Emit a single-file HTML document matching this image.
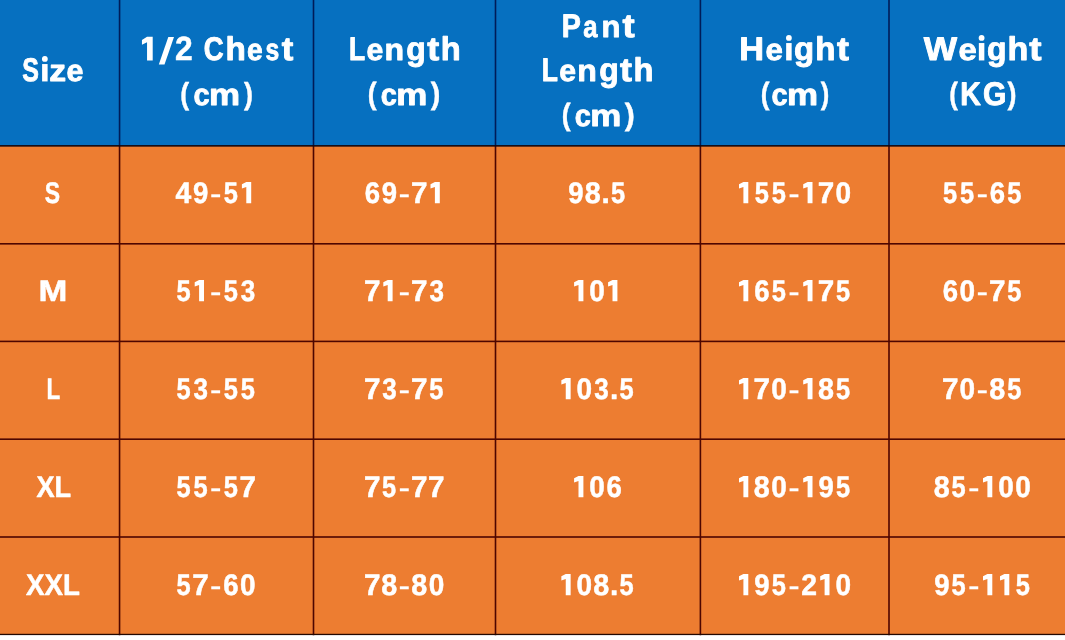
<!DOCTYPE html>
<html><head><meta charset="utf-8"><style>
html,body{margin:0;padding:0;background:#fff;}
body{width:1065px;height:640px;overflow:hidden;}
svg{display:block;filter:blur(0.45px);}
text{font-family:"Liberation Sans",sans-serif;font-weight:bold;fill:#ffffff;stroke:#ffffff;stroke-width:0.5px;stroke-linejoin:round;text-rendering:geometricPrecision;}
</style></head><body>
<svg width="1065" height="640" viewBox="0 0 1065 640">
<rect x="0" y="0" width="1065" height="145.85" fill="#0670c0"/><rect x="0" y="145.85" width="1065" height="488.6" fill="#ed7d31"/>
<g fill="#000"><rect x="118.75" y="0" width="1.6" height="145.85" fill="#001c58"/><rect x="118.75" y="145.85" width="1.6" height="489.40" fill="#4e0600"/><rect x="312.70" y="0" width="1.6" height="145.85" fill="#001c58"/><rect x="312.70" y="145.85" width="1.6" height="489.40" fill="#4e0600"/><rect x="494.70" y="0" width="1.6" height="145.85" fill="#001c58"/><rect x="494.70" y="145.85" width="1.6" height="489.40" fill="#4e0600"/><rect x="699.60" y="0" width="1.6" height="145.85" fill="#001c58"/><rect x="699.60" y="145.85" width="1.6" height="489.40" fill="#4e0600"/><rect x="888.20" y="0" width="1.6" height="145.85" fill="#001c58"/><rect x="888.20" y="145.85" width="1.6" height="489.40" fill="#4e0600"/><rect x="0" y="145.05" width="1065" height="1.6" fill="#140a12"/><rect x="0" y="243.00" width="1065" height="1.6" fill="#4e0600"/><rect x="0" y="340.60" width="1065" height="1.6" fill="#4e0600"/><rect x="0" y="438.40" width="1065" height="1.6" fill="#4e0600"/><rect x="0" y="536.20" width="1065" height="1.6" fill="#4e0600"/><rect x="0" y="633.80" width="1065" height="1.3" fill="#240800"/></g>
<g><text transform="translate(22.35 81.10) scale(0.7597 1.0000)" font-size="32.8" style="stroke-width:0.9px">S</text><text transform="translate(49.20 81.10) scale(1.0281 0.9300)" font-size="32.8" style="stroke-width:0.9px">z</text><text transform="translate(66.44 81.10) scale(0.9268 0.9300)" font-size="32.8" style="stroke-width:0.9px">e</text><text transform="translate(203.75 60.10) scale(0.8407 1.0000)" font-size="32.8" style="stroke-width:0.9px">C</text><text transform="translate(225.45 60.10) scale(1.0142 1.0000)" font-size="32.8" style="stroke-width:0.9px">h</text><text transform="translate(247.00 60.10) scale(0.8598 0.9300)" font-size="32.8" style="stroke-width:0.9px">e</text><text transform="translate(265.41 60.10) scale(0.7529 0.9300)" font-size="32.8" style="stroke-width:0.9px">s</text><text transform="translate(281.70 60.10) scale(1.0575 1.0000)" font-size="32.8" style="stroke-width:0.9px">t</text><text transform="translate(193.38 105.10) scale(0.8841 0.9300)" font-size="32.8" style="stroke-width:0.9px">c</text><text transform="translate(208.95 105.10) scale(1.0651 0.9300)" font-size="32.8" style="stroke-width:0.9px">m</text><text transform="translate(349.07 60.10) scale(0.8053 1.0000)" font-size="32.8" style="stroke-width:0.9px">L</text><text transform="translate(366.44 60.10) scale(0.9207 0.9300)" font-size="32.8" style="stroke-width:0.9px">e</text><text transform="translate(384.43 60.10) scale(0.9769 0.9300)" font-size="32.8" style="stroke-width:0.9px">n</text><text transform="translate(406.37 60.10) scale(0.9744 1.0000)" font-size="32.8" style="stroke-width:0.9px">g</text><text transform="translate(427.19 60.10) scale(1.0957 1.0000)" font-size="32.8" style="stroke-width:0.9px">t</text><text transform="translate(440.79 60.10) scale(0.9955 1.0000)" font-size="32.8" style="stroke-width:0.9px">h</text><text transform="translate(380.78 105.10) scale(0.8841 0.9300)" font-size="32.8" style="stroke-width:0.9px">c</text><text transform="translate(396.35 105.10) scale(1.0651 0.9300)" font-size="32.8" style="stroke-width:0.9px">m</text><text transform="translate(561.63 37.10) scale(0.8726 1.0000)" font-size="32.8" style="stroke-width:0.9px">P</text><text transform="translate(583.34 37.10) scale(0.7816 0.9300)" font-size="32.8" style="stroke-width:0.9px">a</text><text transform="translate(601.39 37.10) scale(0.9457 0.9300)" font-size="32.8" style="stroke-width:0.9px">n</text><text transform="translate(622.58 37.10) scale(1.1147 1.0000)" font-size="32.8" style="stroke-width:0.9px">t</text><text transform="translate(541.87 81.10) scale(0.8053 1.0000)" font-size="32.8" style="stroke-width:0.9px">L</text><text transform="translate(559.24 81.10) scale(0.9207 0.9300)" font-size="32.8" style="stroke-width:0.9px">e</text><text transform="translate(577.23 81.10) scale(0.9769 0.9300)" font-size="32.8" style="stroke-width:0.9px">n</text><text transform="translate(599.17 81.10) scale(0.9744 1.0000)" font-size="32.8" style="stroke-width:0.9px">g</text><text transform="translate(619.99 81.10) scale(1.0957 1.0000)" font-size="32.8" style="stroke-width:0.9px">t</text><text transform="translate(633.59 81.10) scale(0.9955 1.0000)" font-size="32.8" style="stroke-width:0.9px">h</text><text transform="translate(574.78 126.10) scale(0.8841 0.9300)" font-size="32.8" style="stroke-width:0.9px">c</text><text transform="translate(590.35 126.10) scale(1.0651 0.9300)" font-size="32.8" style="stroke-width:0.9px">m</text><text transform="translate(739.29 60.10) scale(1.0467 1.0000)" font-size="32.8" style="stroke-width:0.9px">H</text><text transform="translate(765.41 60.10) scale(0.9512 0.9300)" font-size="32.8" style="stroke-width:0.9px">e</text><text transform="translate(794.03 60.10) scale(1.0043 1.0000)" font-size="32.8" style="stroke-width:0.9px">g</text><text transform="translate(815.27 60.10) scale(1.0080 1.0000)" font-size="32.8" style="stroke-width:0.9px">h</text><text transform="translate(836.89 60.10) scale(1.0957 1.0000)" font-size="32.8" style="stroke-width:0.9px">t</text><text transform="translate(771.48 105.10) scale(0.8841 0.9300)" font-size="32.8" style="stroke-width:0.9px">c</text><text transform="translate(787.05 105.10) scale(1.0651 0.9300)" font-size="32.8" style="stroke-width:0.9px">m</text><text transform="translate(923.65 60.10) scale(1.0783 1.0000)" font-size="32.8" style="stroke-width:0.9px">W</text><text transform="translate(958.47 60.10) scale(1.0000 0.9300)" font-size="32.8" style="stroke-width:0.9px">e</text><text transform="translate(986.97 60.10) scale(0.9744 1.0000)" font-size="32.8" style="stroke-width:0.9px">g</text><text transform="translate(1007.51 60.10) scale(1.0391 1.0000)" font-size="32.8" style="stroke-width:0.9px">h</text><text transform="translate(1029.18 60.10) scale(1.1242 1.0000)" font-size="32.8" style="stroke-width:0.9px">t</text><text transform="translate(960.24 105.10) scale(0.8684 1.0000)" font-size="32.8" style="stroke-width:0.9px">K</text><text transform="translate(983.04 105.10) scale(0.9191 1.0000)" font-size="32.8" style="stroke-width:0.9px">G</text><text transform="translate(180.13 103.61) scale(0.8130 0.9276)" font-size="32.8">(</text><text transform="translate(244.10 103.61) scale(0.8200 0.9276)" font-size="32.8">)</text><text transform="translate(367.73 103.67) scale(0.8130 0.9341)" font-size="32.8">(</text><text transform="translate(430.80 103.67) scale(0.8726 0.9341)" font-size="32.8">)</text><text transform="translate(561.73 125.27) scale(0.8130 0.9341)" font-size="32.8">(</text><text transform="translate(624.80 125.27) scale(0.9146 0.9341)" font-size="32.8">)</text><text transform="translate(760.85 103.57) scale(0.8028 0.9341)" font-size="32.8">(</text><text transform="translate(820.70 103.57) scale(0.7780 0.9341)" font-size="32.8">)</text><text transform="translate(949.26 103.67) scale(0.7927 0.9341)" font-size="32.8">(</text><text transform="translate(1007.50 103.67) scale(0.8200 0.9341)" font-size="32.8">)</text><text transform="translate(175.04 60.30) scale(0.9475 1.0000)" font-size="33.6">2</text><text transform="translate(44.64 203.00) scale(0.7676 1.0000)" font-size="29.9">S</text><text transform="translate(175.53 203.00) scale(0.947 1)" font-size="29.9">4</text><text transform="translate(193.03 203.00) scale(0.921 1)" font-size="29.9">9</text><text transform="translate(223.67 203.00) scale(0.851 1)" font-size="29.9">5</text><text transform="translate(364.63 203.00) scale(0.921 1)" font-size="29.9">6</text><text transform="translate(381.63 203.00) scale(0.921 1)" font-size="29.9">9</text><text transform="translate(411.10 203.00) scale(0.992 1)" font-size="29.9">7</text><text transform="translate(568.18 203.00) scale(0.921 1)" font-size="29.9">9</text><text transform="translate(584.71 203.00) scale(0.961 1)" font-size="29.9">8</text><text transform="translate(601.48 203.00) scale(0.997 1)" font-size="29.9">.</text><text transform="translate(611.12 203.00) scale(0.851 1)" font-size="29.9">5</text><text transform="translate(754.77 203.00) scale(0.851 1)" font-size="29.9">5</text><text transform="translate(771.77 203.00) scale(0.851 1)" font-size="29.9">5</text><text transform="translate(817.80 203.00) scale(0.992 1)" font-size="29.9">7</text><text transform="translate(835.40 203.00) scale(0.937 1)" font-size="29.9">0</text><text transform="translate(943.07 203.00) scale(0.851 1)" font-size="29.9">5</text><text transform="translate(960.07 203.00) scale(0.851 1)" font-size="29.9">5</text><text transform="translate(989.83 203.00) scale(0.921 1)" font-size="29.9">6</text><text transform="translate(1007.27 203.00) scale(0.851 1)" font-size="29.9">5</text><text transform="translate(38.62 301.00) scale(1.1588 1.0000)" font-size="29.9">M</text><text transform="translate(176.47 301.00) scale(0.851 1)" font-size="29.9">5</text><text transform="translate(223.67 301.00) scale(0.851 1)" font-size="29.9">5</text><text transform="translate(240.78 301.00) scale(0.870 1)" font-size="29.9">3</text><text transform="translate(363.90 301.00) scale(0.992 1)" font-size="29.9">7</text><text transform="translate(411.10 301.00) scale(0.992 1)" font-size="29.9">7</text><text transform="translate(429.38 301.00) scale(0.870 1)" font-size="29.9">3</text><text transform="translate(589.30 301.00) scale(0.937 1)" font-size="29.9">0</text><text transform="translate(754.33 301.00) scale(0.921 1)" font-size="29.9">6</text><text transform="translate(771.77 301.00) scale(0.851 1)" font-size="29.9">5</text><text transform="translate(817.80 301.00) scale(0.992 1)" font-size="29.9">7</text><text transform="translate(835.97 301.00) scale(0.851 1)" font-size="29.9">5</text><text transform="translate(942.63 301.00) scale(0.921 1)" font-size="29.9">6</text><text transform="translate(959.50 301.00) scale(0.937 1)" font-size="29.9">0</text><text transform="translate(989.10 301.00) scale(0.992 1)" font-size="29.9">7</text><text transform="translate(1007.27 301.00) scale(0.851 1)" font-size="29.9">5</text><text transform="translate(46.55 399.00) scale(0.7509 1.0000)" font-size="29.9">L</text><text transform="translate(176.47 399.00) scale(0.851 1)" font-size="29.9">5</text><text transform="translate(193.58 399.00) scale(0.870 1)" font-size="29.9">3</text><text transform="translate(223.67 399.00) scale(0.851 1)" font-size="29.9">5</text><text transform="translate(240.67 399.00) scale(0.851 1)" font-size="29.9">5</text><text transform="translate(363.90 399.00) scale(0.992 1)" font-size="29.9">7</text><text transform="translate(382.18 399.00) scale(0.870 1)" font-size="29.9">3</text><text transform="translate(411.10 399.00) scale(0.992 1)" font-size="29.9">7</text><text transform="translate(429.27 399.00) scale(0.851 1)" font-size="29.9">5</text><text transform="translate(576.55 399.00) scale(0.937 1)" font-size="29.9">0</text><text transform="translate(594.23 399.00) scale(0.870 1)" font-size="29.9">3</text><text transform="translate(609.98 399.00) scale(0.997 1)" font-size="29.9">.</text><text transform="translate(619.62 399.00) scale(0.851 1)" font-size="29.9">5</text><text transform="translate(753.60 399.00) scale(0.992 1)" font-size="29.9">7</text><text transform="translate(771.20 399.00) scale(0.937 1)" font-size="29.9">0</text><text transform="translate(818.06 399.00) scale(0.961 1)" font-size="29.9">8</text><text transform="translate(835.97 399.00) scale(0.851 1)" font-size="29.9">5</text><text transform="translate(941.90 399.00) scale(0.992 1)" font-size="29.9">7</text><text transform="translate(959.50 399.00) scale(0.937 1)" font-size="29.9">0</text><text transform="translate(989.36 399.00) scale(0.961 1)" font-size="29.9">8</text><text transform="translate(1007.27 399.00) scale(0.851 1)" font-size="29.9">5</text><text transform="translate(36.50 497.00) scale(0.9073 1.0000)" font-size="29.9">XL</text><text transform="translate(176.47 497.00) scale(0.851 1)" font-size="29.9">5</text><text transform="translate(193.47 497.00) scale(0.851 1)" font-size="29.9">5</text><text transform="translate(223.67 497.00) scale(0.851 1)" font-size="29.9">5</text><text transform="translate(239.50 497.00) scale(0.992 1)" font-size="29.9">7</text><text transform="translate(363.90 497.00) scale(0.992 1)" font-size="29.9">7</text><text transform="translate(382.07 497.00) scale(0.851 1)" font-size="29.9">5</text><text transform="translate(411.10 497.00) scale(0.992 1)" font-size="29.9">7</text><text transform="translate(428.10 497.00) scale(0.992 1)" font-size="29.9">7</text><text transform="translate(589.30 497.00) scale(0.937 1)" font-size="29.9">0</text><text transform="translate(606.43 497.00) scale(0.921 1)" font-size="29.9">6</text><text transform="translate(753.86 497.00) scale(0.961 1)" font-size="29.9">8</text><text transform="translate(771.20 497.00) scale(0.937 1)" font-size="29.9">0</text><text transform="translate(818.53 497.00) scale(0.921 1)" font-size="29.9">9</text><text transform="translate(835.97 497.00) scale(0.851 1)" font-size="29.9">5</text><text transform="translate(933.66 497.00) scale(0.961 1)" font-size="29.9">8</text><text transform="translate(951.57 497.00) scale(0.851 1)" font-size="29.9">5</text><text transform="translate(998.20 497.00) scale(0.937 1)" font-size="29.9">0</text><text transform="translate(1015.20 497.00) scale(0.937 1)" font-size="29.9">0</text><text transform="translate(26.10 595.00) scale(0.9265 1.0000)" font-size="29.9">XXL</text><text transform="translate(176.47 595.00) scale(0.851 1)" font-size="29.9">5</text><text transform="translate(192.30 595.00) scale(0.992 1)" font-size="29.9">7</text><text transform="translate(223.23 595.00) scale(0.921 1)" font-size="29.9">6</text><text transform="translate(240.10 595.00) scale(0.937 1)" font-size="29.9">0</text><text transform="translate(363.90 595.00) scale(0.992 1)" font-size="29.9">7</text><text transform="translate(381.16 595.00) scale(0.961 1)" font-size="29.9">8</text><text transform="translate(411.36 595.00) scale(0.961 1)" font-size="29.9">8</text><text transform="translate(428.70 595.00) scale(0.937 1)" font-size="29.9">0</text><text transform="translate(576.55 595.00) scale(0.937 1)" font-size="29.9">0</text><text transform="translate(593.21 595.00) scale(0.961 1)" font-size="29.9">8</text><text transform="translate(609.98 595.00) scale(0.997 1)" font-size="29.9">.</text><text transform="translate(619.62 595.00) scale(0.851 1)" font-size="29.9">5</text><text transform="translate(754.33 595.00) scale(0.921 1)" font-size="29.9">9</text><text transform="translate(771.77 595.00) scale(0.851 1)" font-size="29.9">5</text><text transform="translate(801.31 595.00) scale(0.947 1)" font-size="29.9">2</text><text transform="translate(835.40 595.00) scale(0.937 1)" font-size="29.9">0</text><text transform="translate(934.13 595.00) scale(0.921 1)" font-size="29.9">9</text><text transform="translate(951.57 595.00) scale(0.851 1)" font-size="29.9">5</text><text transform="translate(1015.77 595.00) scale(0.851 1)" font-size="29.9">5</text></g>
<g fill="#ffffff"><rect x="42.10" y="64.05" width="5.5" height="17.4"/><circle cx="44.85" cy="58.95" r="2.9"/><rect x="786.15" y="43.05" width="5.5" height="17.4"/><circle cx="788.90" cy="37.95" r="2.9"/><rect x="978.85" y="43.05" width="5.5" height="17.4"/><circle cx="981.60" cy="37.95" r="2.9"/><path d="M147.05,36.64 L152.71,36.64 L152.71,60.50 L147.05,60.50 L147.05,42.30 L141.95,44.63 L141.95,39.97 Z"/><path d="M158.80,64.45 L164.50,64.45 L174.00,36.95 L168.30,36.95 Z"/><rect x="211.25" y="194.30" width="8.9" height="3.00"/><path d="M246.30,182.00 L251.20,182.00 L251.20,203.25 L246.30,203.25 L246.30,187.00 L241.90,188.60 L241.90,184.30 Z"/><rect x="399.85" y="194.30" width="8.9" height="3.00"/><path d="M434.90,182.00 L439.80,182.00 L439.80,203.25 L434.90,203.25 L434.90,187.00 L430.50,188.60 L430.50,184.30 Z"/><path d="M743.40,182.00 L748.30,182.00 L748.30,203.25 L743.40,203.25 L743.40,187.00 L739.00,188.60 L739.00,184.30 Z"/><rect x="789.55" y="194.30" width="8.9" height="3.00"/><path d="M807.60,182.00 L812.50,182.00 L812.50,203.25 L807.60,203.25 L807.60,187.00 L803.20,188.60 L803.20,184.30 Z"/><rect x="977.85" y="194.30" width="8.9" height="3.00"/><path d="M199.10,280.00 L204.00,280.00 L204.00,301.25 L199.10,301.25 L199.10,285.00 L194.70,286.60 L194.70,282.30 Z"/><rect x="211.25" y="292.30" width="8.9" height="3.00"/><path d="M387.70,280.00 L392.60,280.00 L392.60,301.25 L387.70,301.25 L387.70,285.00 L383.30,286.60 L383.30,282.30 Z"/><rect x="399.85" y="292.30" width="8.9" height="3.00"/><path d="M578.50,280.00 L583.40,280.00 L583.40,301.25 L578.50,301.25 L578.50,285.00 L574.10,286.60 L574.10,282.30 Z"/><path d="M612.50,280.00 L617.40,280.00 L617.40,301.25 L612.50,301.25 L612.50,285.00 L608.10,286.60 L608.10,282.30 Z"/><path d="M743.40,280.00 L748.30,280.00 L748.30,301.25 L743.40,301.25 L743.40,285.00 L739.00,286.60 L739.00,282.30 Z"/><rect x="789.55" y="292.30" width="8.9" height="3.00"/><path d="M807.60,280.00 L812.50,280.00 L812.50,301.25 L807.60,301.25 L807.60,285.00 L803.20,286.60 L803.20,282.30 Z"/><rect x="977.85" y="292.30" width="8.9" height="3.00"/><rect x="211.25" y="390.30" width="8.9" height="3.00"/><rect x="399.85" y="390.30" width="8.9" height="3.00"/><path d="M565.75,378.00 L570.65,378.00 L570.65,399.25 L565.75,399.25 L565.75,383.00 L561.35,384.60 L561.35,380.30 Z"/><path d="M743.40,378.00 L748.30,378.00 L748.30,399.25 L743.40,399.25 L743.40,383.00 L739.00,384.60 L739.00,380.30 Z"/><rect x="789.55" y="390.30" width="8.9" height="3.00"/><path d="M807.60,378.00 L812.50,378.00 L812.50,399.25 L807.60,399.25 L807.60,383.00 L803.20,384.60 L803.20,380.30 Z"/><rect x="977.85" y="390.30" width="8.9" height="3.00"/><rect x="211.25" y="488.30" width="8.9" height="3.00"/><rect x="399.85" y="488.30" width="8.9" height="3.00"/><path d="M578.50,476.00 L583.40,476.00 L583.40,497.25 L578.50,497.25 L578.50,481.00 L574.10,482.60 L574.10,478.30 Z"/><path d="M743.40,476.00 L748.30,476.00 L748.30,497.25 L743.40,497.25 L743.40,481.00 L739.00,482.60 L739.00,478.30 Z"/><rect x="789.55" y="488.30" width="8.9" height="3.00"/><path d="M807.60,476.00 L812.50,476.00 L812.50,497.25 L807.60,497.25 L807.60,481.00 L803.20,482.60 L803.20,478.30 Z"/><rect x="969.35" y="488.30" width="8.9" height="3.00"/><path d="M987.40,476.00 L992.30,476.00 L992.30,497.25 L987.40,497.25 L987.40,481.00 L983.00,482.60 L983.00,478.30 Z"/><rect x="211.25" y="586.30" width="8.9" height="3.00"/><rect x="399.85" y="586.30" width="8.9" height="3.00"/><path d="M565.75,574.00 L570.65,574.00 L570.65,595.25 L565.75,595.25 L565.75,579.00 L561.35,580.60 L561.35,576.30 Z"/><path d="M743.40,574.00 L748.30,574.00 L748.30,595.25 L743.40,595.25 L743.40,579.00 L739.00,580.60 L739.00,576.30 Z"/><rect x="789.55" y="586.30" width="8.9" height="3.00"/><path d="M824.60,574.00 L829.50,574.00 L829.50,595.25 L824.60,595.25 L824.60,579.00 L820.20,580.60 L820.20,576.30 Z"/><rect x="969.35" y="586.30" width="8.9" height="3.00"/><path d="M987.40,574.00 L992.30,574.00 L992.30,595.25 L987.40,595.25 L987.40,579.00 L983.00,580.60 L983.00,576.30 Z"/><path d="M1004.40,574.00 L1009.30,574.00 L1009.30,595.25 L1004.40,595.25 L1004.40,579.00 L1000.00,580.60 L1000.00,576.30 Z"/></g>
</svg>
</body></html>
